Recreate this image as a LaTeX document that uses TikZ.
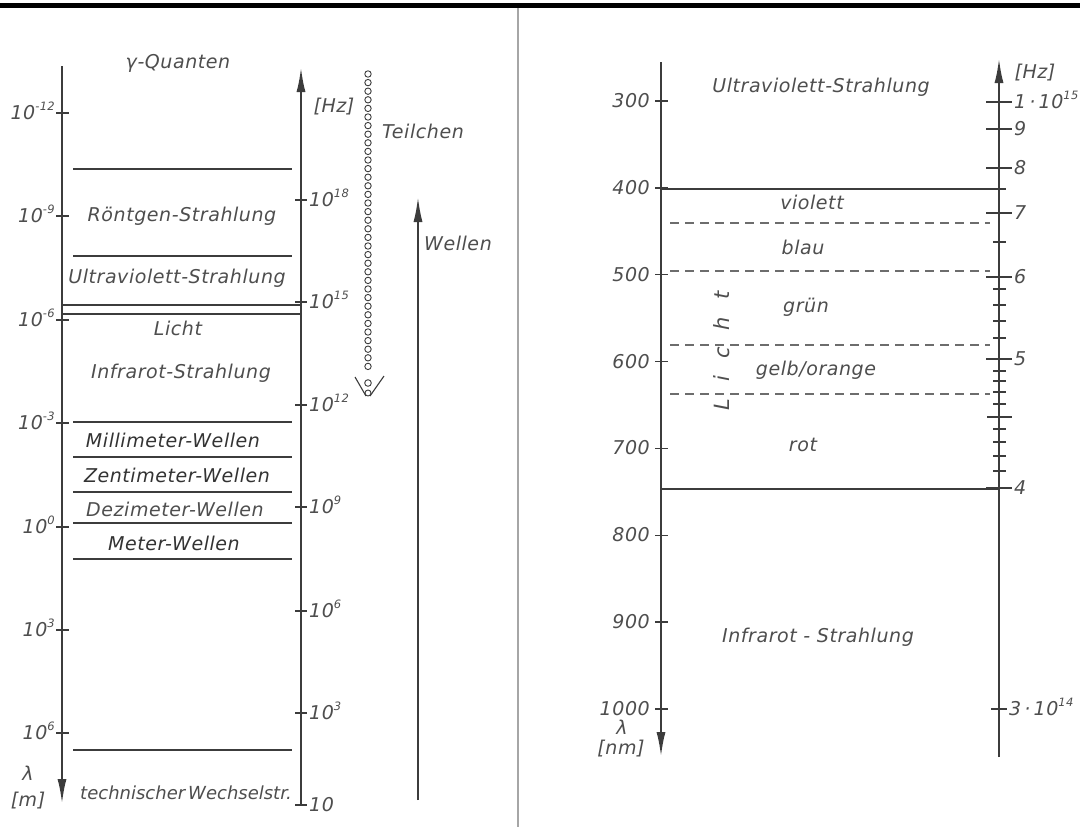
\documentclass[tikz,border=0pt]{standalone}
\usepackage{fontspec}
\setmainfont{DejaVu Sans}[ItalicFont={DejaVu Sans Oblique},LetterSpace=3]
\usetikzlibrary{arrows.meta}
\definecolor{ink}{HTML}{3C3C3C}
\definecolor{txt}{HTML}{4E4E4E}
\newcommand\sx[1]{\raisebox{0.5em}{\fontsize{11.5}{11.5}\selectfont #1}}
\begin{document}
\begin{tikzpicture}[x=1pt,y=-1pt,
  lbl/.style={font=\fontsize{19}{19}\selectfont\itshape, text=txt, inner sep=0pt},
  dlbl/.style={lbl, text=ink!85!black},
  ax/.style={draw=ink, line width=2.3pt},
  hl/.style={draw=ink, line width=1.4pt},
  dsh/.style={draw=ink!75, line width=1.3pt, dash pattern=on 9pt off 6pt},
  tk/.style={draw=ink, line width=1.4pt},
  arr/.style={-{Latex[length=25pt,width=9pt]}},
  pdot/.style={draw=ink, line width=0.9pt, fill=white},
]
\useasboundingbox (0,0) rectangle (1080,827);
\fill[white] (0,0) rectangle (1080,827);
\fill[black] (0,3) rectangle (1080,7.5);
\draw[draw=black!35, line width=2pt] (518,8) -- (518,827);

% ================= LEFT PANEL =================
\coordinate (la-top) at (62,66);
\coordinate (la-bot) at (62,804);
\draw[ax, arr] (la-top) -- (la-bot);
\foreach \y/\e [count=\i] in {113/-12,216/-9,320/-6,423/-3,527/0,630/3,733/6} {
  \draw[tk] (56,\y) -- (69,\y);
  \node[lbl, anchor=base east] (lt\i) at (55,\y+6.5) {10\sx{\e}};
}
\node[lbl] (lam1) at (28,773) {λ};
\node[lbl] (unit1) at (28,801) {[m]};

\coordinate (lf-bot) at (301,805);
\coordinate (lf-top) at (301,67);
\draw[ax, arr] (lf-bot) -- (lf-top);
\foreach \y/\e [count=\i] in {200/18,302/15,405/12,507/9,611/6,713/3} {
  \draw[tk] (295,\y) -- (307,\y);
  \node[lbl, anchor=base west] (rt\i) at (309,\y+6.5) {10\sx{\e}};
}
\draw[tk] (295,805) -- (307,805);
\node[lbl, anchor=base west] (rt7) at (309,811.5) {10};
\node[lbl] (hz1) at (334,107) {[Hz]};

\foreach \y in {169,256,422,457,492,523,559,750}
  \draw[hl] (73,\y) -- (292,\y);
\draw[hl] (62,305) -- (301,305);
\draw[hl, line width=1.9pt] (62,314) -- (301,314);

\node[lbl] (gam) at (178,63) {γ-Quanten};
\node[lbl] (roe) at (182,216) {Röntgen-Strahlung};
\node[lbl] (uv1) at (177,278) {Ultraviolett-Strahlung};
\node[lbl] (li1) at (178,328) {Licht};
\node[lbl] (ir1) at (181,373) {Infrarot-Strahlung};
\node[dlbl] (mm) at (173,440) {Millimeter-Wellen};
\node[dlbl] (cm) at (177,475) {Zentimeter-Wellen};
\node[lbl] (dm) at (175,509) {Dezimeter-Wellen};
\node[dlbl] (m) at (174,543) {Meter-Wellen};
\node[lbl, font=\fontsize{18}{18}\selectfont\itshape] (tw) at (186,793) {\addfontfeature{LetterSpace=0}technischer\,Wechselstr.};

% particles
\foreach \i in {0,...,34}
  \draw[pdot] (368,74+\i*8.6) circle (3.2);
\draw[pdot] (368,383) circle (3.3);
\draw[pdot] (368,393) circle (3);
\draw[ink, line width=1.1pt] (355,377) -- (366,396);
\draw[ink, line width=1.1pt] (384,376) -- (370,396);
\node[lbl] (teil) at (423,131) {Teilchen};

\coordinate (w-bot) at (418,800);
\coordinate (w-top) at (418,197);
\draw[ax, arr, line width=2pt] (w-bot) -- (w-top);
\node[lbl] (wel) at (458,243) {Wellen};

% ================= RIGHT PANEL =================
\coordinate (ra-top) at (661,62);
\coordinate (ra-bot) at (661,757);
\draw[ax, arr] (ra-top) -- (ra-bot);
\foreach \l [count=\i] in {300,400,...,1000} {
  \pgfmathsetmacro\yy{101+(\l-300)*0.8686}
  \draw[tk] (655,\yy) -- (668,\yy);
  \node[lbl, anchor=base east] (nm\i) at (650,\yy+6.5) {\l};
}
\node[lbl] (lam2) at (622,727) {λ};
\node[lbl] (unit2) at (621,749) {[nm]};

\coordinate (rf-bot) at (999,757);
\coordinate (rf-top) at (999,58);
\draw[ax, arr] (rf-bot) -- (rf-top);
\foreach \y/\t [count=\i] in {129/9,168/8,213/7,277/6,359/5,488/4} {
  \draw[tk] (986,\y) -- (1012,\y);
  \node[lbl, anchor=base west] (hzl\i) at (1014,\y+6.5) {\t};
}
\draw[tk] (986,102) -- (1012,102);
\node[lbl, anchor=base west] (hz15) at (1014,108.5) {1\,·\,10\sx{15}};
\draw[tk] (991,709) -- (1007,709);
\node[lbl, anchor=base west] (hz14) at (1009,715.5) {3\,·\,10\sx{14}};
\node[lbl] (hz2) at (1035,73) {[Hz]};
\foreach \y in {242,289,305,321,338,371,381,392,404,429,442,456,471}
  \draw[tk] (993,\y) -- (1006,\y);
\draw[tk] (987,417) -- (1012,417);

\draw[hl, line width=1.7pt] (661,189) -- (1006,189);
\draw[hl, line width=1.7pt] (661,489) -- (1000,489);
\foreach \y in {223,271,345,394}
  \draw[dsh] (670,\y) -- (990,\y);

\node[lbl] (uv2) at (821,87) {Ultraviolett-Strahlung};
\node[lbl] (vio) at (812,202) {violett};
\node[lbl] (bla) at (803,247) {blau};
\node[lbl] (gru) at (806,307) {grün};
\node[lbl] (gel) at (816,370) {gelb/orange};
\node[lbl] (rot) at (803,445) {rot};
\node[lbl] (ir2) at (818,637) {Infrarot - Strahlung};
\node[lbl, rotate=90, font=\fontsize{21}{21}\selectfont\itshape] (li2) at (722,351) {L\hspace{17pt}i\hspace{17pt}c\hspace{17pt}h\hspace{17pt}t};
\end{tikzpicture}
\end{document}
